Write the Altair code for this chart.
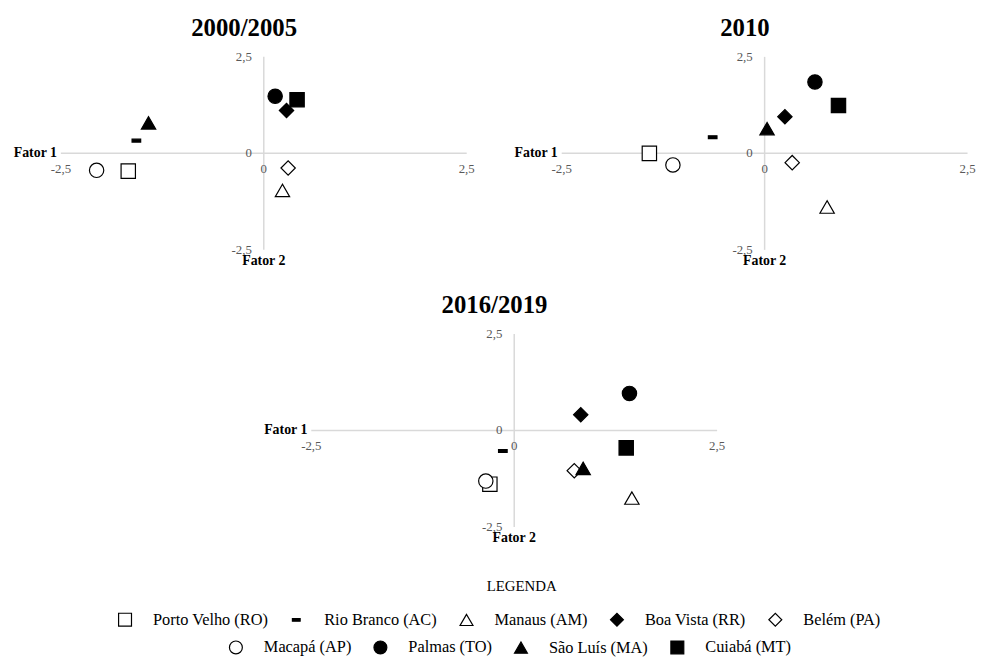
import altair as alt
import pandas as pd

SERIF = "Liberation Serif"

cities = ["Porto Velho (RO)", "Rio Branco (AC)", "Manaus (AM)", "Boa Vista (RR)",
          "Belém (PA)", "Macapá (AP)", "Palmas (TO)", "São Luís (MA)", "Cuiabá (MT)"]
row1 = cities[:5]
row2 = cities[5:]

DASH = "M-0.6,-0.2L0.6,-0.2L0.6,0.2L-0.6,0.2Z"
shapes = ["square", DASH, "triangle-up", "diamond", "diamond",
          "circle", "circle", "triangle-up", "square"]
fills = ["white", "black", "white", "black", "white",
         "white", "black", "black", "black"]

periods = ["2000/2005", "2010", "2016/2019"]
f1_2000 = [-1.67, -1.57, 0.23, 0.28, 0.30, -2.06, 0.14, -1.42, 0.41]
f2_2000 = [-0.46, 0.33, -0.96, 1.11, -0.38, -0.44, 1.48, 0.79, 1.39]
f1_2010 = [-1.42, -0.64, 0.77, 0.25, 0.34, -1.13, 0.62, 0.03, 0.91]
f2_2010 = [0.00, 0.42, -1.39, 0.95, -0.24, -0.30, 1.85, 0.64, 1.24]
f1_2016 = [-0.30, -0.14, 1.45, 0.82, 0.74, -0.35, 1.42, 0.85, 1.38]
f2_2016 = [-1.39, -0.53, -1.75, 0.41, -1.04, -1.31, 0.96, -0.98, -0.45]

ticks = [-2.5, 0.0, 2.5]
tick_labels = ["-2,5", "0", "2,5"]

W, H = 410, 195
AXIS_GRAY = "#d9d9d9"
LABEL_GRAY = "#595959"

xs = alt.Scale(domain=[ticks[0], ticks[-1]], nice=False, zero=False)
ys = alt.Scale(domain=[ticks[0], ticks[-1]], nice=False, zero=False)


def panel(title, f1, f2):
    pts = pd.DataFrame({"city": cities, "f1": f1, "f2": f2})
    hline = pd.DataFrame({"a": [ticks[0]], "b": [ticks[-1]], "c": [0.0]})
    tdf = pd.DataFrame({"v": ticks, "lab": tick_labels, "z": [0.0] * len(ticks)})
    names = pd.DataFrame({"v": [ticks[0]], "z": [0.0], "lab1": ["Fator 1"], "lab2": ["Fator 2"]})

    h = alt.Chart(hline).mark_rule(color=AXIS_GRAY, strokeWidth=1.5).encode(
        x=alt.X("a:Q", scale=xs, axis=None), x2="b:Q", y=alt.Y("c:Q", scale=ys, axis=None))
    v = alt.Chart(hline).mark_rule(color=AXIS_GRAY, strokeWidth=1.5).encode(
        y=alt.Y("a:Q", scale=ys, axis=None), y2="b:Q", x=alt.X("c:Q", scale=xs, axis=None))
    xl = alt.Chart(tdf).mark_text(font=SERIF, fontSize=13, color=LABEL_GRAY,
                                  align="center", baseline="middle", dy=16).encode(
        x=alt.X("v:Q", scale=xs, axis=None), y=alt.Y("z:Q", scale=ys, axis=None), text="lab:N")
    yl = alt.Chart(tdf).mark_text(font=SERIF, fontSize=13, color=LABEL_GRAY,
                                  align="right", baseline="middle", dx=-12).encode(
        y=alt.Y("v:Q", scale=ys, axis=None), x=alt.X("z:Q", scale=xs, axis=None), text="lab:N")
    n1 = alt.Chart(names).mark_text(font=SERIF, fontSize=14, fontWeight="bold", color="black",
                                    align="right", baseline="middle", dx=-4).encode(
        x=alt.X("v:Q", scale=xs, axis=None), y=alt.Y("z:Q", scale=ys, axis=None), text="lab1:N")
    n2 = alt.Chart(names).mark_text(font=SERIF, fontSize=14, fontWeight="bold", color="black",
                                    align="center", baseline="middle", dy=11).encode(
        x=alt.X("z:Q", scale=xs, axis=None), y=alt.Y("v:Q", scale=ys, axis=None), text="lab2:N")
    p = alt.Chart(pts).mark_point(size=210, opacity=1, stroke="black", strokeWidth=1.2).encode(
        x=alt.X("f1:Q", scale=xs, axis=None),
        y=alt.Y("f2:Q", scale=ys, axis=None),
        shape=alt.Shape("city:N", scale=alt.Scale(domain=cities, range=shapes), legend=None),
        fill=alt.Fill("city:N", scale=alt.Scale(domain=cities, range=fills), legend=None),
    )
    return alt.layer(h, v, xl, yl, n1, n2, p).properties(
        width=W, height=H,
        title=alt.TitleParams(title, font=SERIF, fontSize=25, fontWeight="bold", color="black",
                              anchor="middle", frame="bounds", offset=10),
    )


def legend_layer(names, lx, ly):
    d = pd.DataFrame({"city": names})
    sh = [shapes[cities.index(c)] for c in names]
    fl = [fills[cities.index(c)] for c in names]
    leg = alt.Legend(title=None, orient="none", legendX=lx, legendY=ly, direction="horizontal",
                     labelFont=SERIF, labelFontSize=16.5, labelColor="black",
                     labelOffset=20, columnPadding=20, symbolSize=170,
                     symbolStrokeWidth=1.2, padding=0)
    return alt.Chart(d).transform_filter("false").mark_point(
        size=170, opacity=1, strokeWidth=1.2).encode(
        shape=alt.Shape("city:N", scale=alt.Scale(domain=names, range=sh), legend=leg),
        fill=alt.Fill("city:N", scale=alt.Scale(domain=names, range=fl), legend=leg),
        stroke=alt.Stroke("city:N", scale=alt.Scale(domain=names, range=["black"] * len(names)),
                          legend=leg),
    )


p1 = panel(periods[0], f1_2000, f2_2000)
p2 = panel(periods[1], f1_2010, f2_2010)
p3 = panel(periods[2], f1_2016, f2_2016)

legend_chart = alt.layer(
    legend_layer(row1, 44.5, 41),
    legend_layer(row2, 156.5, 69),
).resolve_scale(shape="independent", fill="independent", stroke="independent").properties(
    width=900, height=1,
    title=alt.TitleParams("LEGENDA", font=SERIF, fontSize=15, fontWeight="normal", color="black",
                          anchor="middle", frame="group", offset=-24, dx=3.5),
)

top = alt.hconcat(p1, p2, spacing=39).resolve_scale(
    shape="independent", fill="independent", x="independent", y="independent")
chart = alt.vconcat(top, p3, legend_chart, spacing=26, center=True).resolve_scale(
    shape="independent", fill="independent", stroke="independent",
    x="independent", y="independent"
).properties(
    padding={"left": 5, "top": 5, "right": 0, "bottom": 0},
    background="white",
).configure_view(stroke=None)

chart.save("out.html", embed_options={"renderer": "svg", "actions": False})
